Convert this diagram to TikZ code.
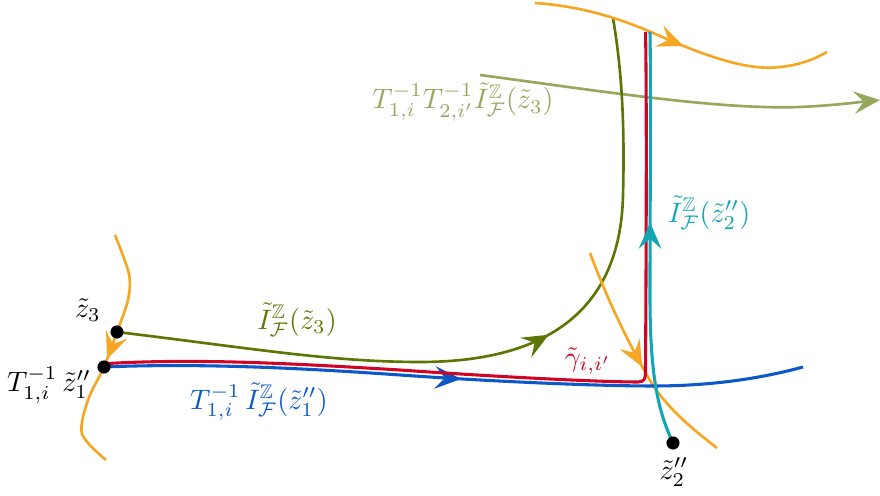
\documentclass[tikz,border=0pt]{standalone}
\usepackage{amssymb}
\usetikzlibrary{arrows.meta,decorations.markings}
\definecolor{orng}{RGB}{245,166,35}
\definecolor{olv}{RGB}{92,118,4}
\definecolor{lolv}{RGB}{150,168,92}
\definecolor{gred}{RGB}{208,4,36}
\definecolor{blu}{RGB}{12,88,200}
\definecolor{cyn}{RGB}{18,166,180}
\begin{document}
\begin{tikzpicture}[x=0.016cm,y=0.016cm,>={Stealth[length=4.2mm,width=3.6mm,inset=1.6mm]}]
  \tikzset{curve/.style={line width=1.2pt},
    thick curve/.style={line width=1.4pt},
    midarr/.style={postaction={decorate},decoration={markings,mark=at position #1 with {\arrow{>}}}},
    dot/.style={circle, fill=black, inner sep=0pt, minimum size=0.21cm},
    lbl/.style={scale=1.28}}
  \useasboundingbox (0,0) rectangle (880,496);
  % points
  \coordinate (z3) at (117,164);
  \coordinate (z1) at (104,129);
  \coordinate (z2) at (673,53);
  % free ends
  \coordinate (lgA) at (480,421);
  \coordinate (lgB) at (880,396);
  \coordinate (gA) at (613,478);
  \coordinate (bB) at (803,129);
  \coordinate (rtop) at (645.5,464);
  \coordinate (ctop) at (650,464);
  % translated line
  \draw[curve,lolv,->] (lgA) .. controls (600,405) and (720,386) .. (800,389) .. controls (840,391) and (860,394) .. (lgB);
  % I(z3)
  \draw[curve,olv,midarr=0.56] (z3) .. controls (250,148) and (330,134) .. (420,134)
    .. controls (540,134) and (620,180) .. (623,300) .. controls (625,380) and (621,430) .. (gA);
  % orange leaves
  \draw[curve,orng,midarr=0.53] plot[smooth] coordinates {(115,261) (129,222) (128,196) (z3) (z1) (88,96) (82,62) (106,36)};
  \draw[curve,orng,midarr=0.51] (535,493) .. controls (580,490) and (620,478) .. (660,460)
    .. controls (710,438) and (750,425) .. (780,429) .. controls (800,431) and (815,437) .. (827,444);
  \draw[curve,orng,midarr=0.53] (590,243) .. controls (610,190) and (630,150) .. (652,112)
    .. controls (670,85) and (695,65) .. (717,48);
  % paths
  \draw[thick curve,blu,midarr=0.51] (z1) .. controls (200,133) and (300,128) .. (400,121)
    .. controls (500,114) and (600,110) .. (653,110) .. controls (720,110) and (770,120) .. (bB);
  \draw[thick curve,gred] ([yshift=1.5pt]z1) .. controls (200,138) and (300,132) .. (400,126)
    .. controls (500,119) and (600,114) .. (638,114) .. controls (644,114) and (645.5,117) .. (645.5,124)
    .. controls (646,200) and (647,400) .. (rtop);
  \draw[thick curve,cyn,midarr=0.54] (z2) .. controls (658,85) and (650,120) .. (650,200)
    .. controls (650,300) and (651,400) .. (ctop);
  % dots
  \node[dot] (p3) at (z3) {};
  \node[dot] (p1) at (z1) {};
  \node[dot] (p2) at (z2) {};
  % labels
  \node[lbl] (l3) at (88,186) {$\tilde z_3$};
  \node[lbl] (l1) at (49,111) {$T_{1,i}^{-1}\,\tilde z_1''$};
  \node[lbl] (l2) at (674,24) {$\tilde z_2''$};
  \node[lbl,olv] (lI3) at (297,176) {$\tilde I^{\mathbb Z}_{\mathcal F}(\tilde z_3)$};
  \node[lbl,blu] (lI1) at (259,94) {$T_{1,i}^{-1}\,\tilde I^{\mathbb Z}_{\mathcal F}(\tilde z_1'')$};
  \node[lbl,gred] (lgam) at (588,135) {$\tilde\gamma_{i,i'}$};
  \node[lbl,cyn] (lI2) at (709,283) {$\tilde I^{\mathbb Z}_{\mathcal F}(\tilde z_2'')$};
  \node[lbl,lolv] (lTT) at (463,394) {$T_{1,i}^{-1}T_{2,i'}^{-1}\tilde I^{\mathbb Z}_{\mathcal F}(\tilde z_3)$};
\end{tikzpicture}
\end{document}
